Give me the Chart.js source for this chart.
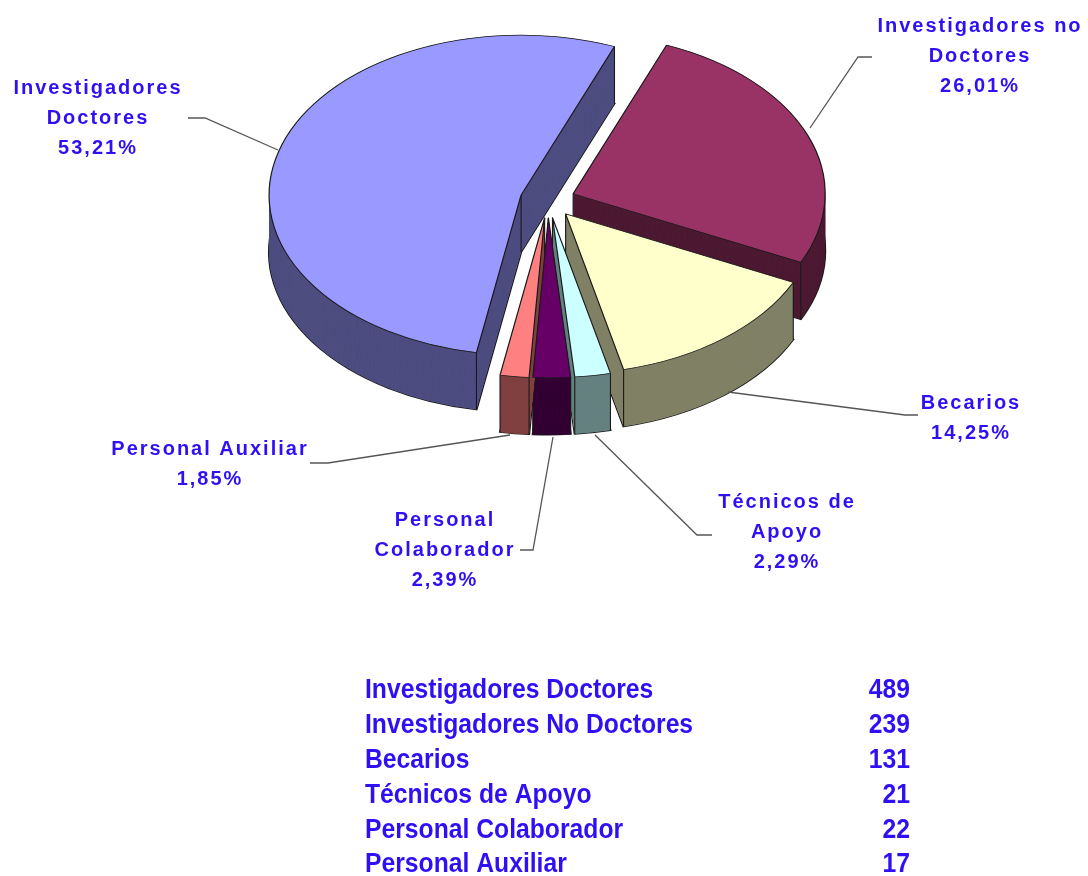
<!DOCTYPE html>
<html>
<head>
<meta charset="utf-8">
<style>html,body{margin:0;padding:0;background:#fff}#w{position:absolute;left:0;top:0;width:1088px;height:876px}</style>
<script src="https://cdn.jsdelivr.net/npm/chart.js@4"></script>
</head>
<body>
<div id="w"><canvas id="c" width="1088" height="876"></canvas></div>
<script>
const categories = ['Investigadores Doctores','Investigadores No Doctores','Becarios','Técnicos de Apoyo','Personal Colaborador','Personal Auxiliar'];
const counts = [489,239,131,21,22,17];
const percentLabels = ['53,21%','26,01%','14,25%','2,29%','2,39%','1,85%'];
const sliceLabels = [['Investigadores','Doctores'],['Investigadores no','Doctores'],['Becarios'],['Técnicos de','Apoyo'],['Personal','Colaborador'],['Personal Auxiliar']];
const topColors = ['#9999ff','#993366','#ffffcc','#ccffff','#660066','#ff8080'];
const wallColors = ['#4d4d80','#4d1a33','#808066','#668080','#330033','#804040'];
const explode = [28,27,28,28,28,28];

const SQUASH = 0.635, DEPTH = 57, RADIUS = 252;
const TEXT = '#2f10f5', LINE = '#555';
const labelPos = [
  {x:98,y:88,line:[[278,150],[205,118],[188,118]]},
  {x:980,y:26,line:[[810,128],[858,57],[872,57]]},
  {x:971,y:403,line:[[728,392],[905,415],[918,415]]},
  {x:787,y:502,line:[[595,435],[697,535],[712,535]]},
  {x:445,y:520,line:[[553,437],[533,550],[520,550]]},
  {x:210,y:449,line:[[510,435],[328,463],[310,463]]}
];

function trace(ctx,el,yo){
  ctx.beginPath(); ctx.moveTo(el.x,el.y+yo);
  ctx.arc(el.x,el.y+yo,el.outerRadius,el.startAngle,el.endAngle);
  ctx.closePath();
}
const pie3d = {
  id:'pie3d',
  afterDatasetsUpdate(chart){
    const arcs=chart.getDatasetMeta(0).data;
    chart.$pivot={x:arcs[0].x,y:arcs[0].y};
    arcs.forEach((el,i)=>{
      const h=(el.startAngle+el.endAngle)/2;
      el.x+=Math.cos(h)*explode[i];
      el.y+=Math.sin(h)*explode[i];
    });
  },
  beforeDatasetsDraw(chart){
    const ctx=chart.ctx, arcs=chart.getDatasetMeta(0).data, cx=chart.$pivot.x, cy=chart.$pivot.y;
    ctx.save();
    ctx.translate(cx,cy); ctx.scale(1,SQUASH); ctx.translate(-cx,-cy);
    const dz=DEPTH/SQUASH;
    arcs.forEach((el,i)=>{
      ctx.lineWidth=2.2; ctx.strokeStyle='#1a1a1a';
      trace(ctx,el,dz); ctx.stroke();
      ctx.fillStyle=wallColors[i];
      for(let k=dz;k>=0;k-=0.8){ trace(ctx,el,k); ctx.fill(); }
      ctx.lineWidth=1.1;
      ctx.beginPath();
      ctx.moveTo(el.x,el.y); ctx.lineTo(el.x,el.y+dz);
      [el.startAngle,el.endAngle].forEach(a=>{
        const px=el.x+Math.cos(a)*el.outerRadius, py=el.y+Math.sin(a)*el.outerRadius;
        ctx.moveTo(px,py); ctx.lineTo(px,py+dz);
      });
      ctx.stroke();
    });
  },
  afterDatasetsDraw(chart){
    const ctx=chart.ctx;
    ctx.restore();
    ctx.save();
    ctx.strokeStyle=LINE; ctx.lineWidth=1.3;
    labelPos.forEach(p=>{
      ctx.beginPath();
      p.line.forEach((q,i)=> i?ctx.lineTo(q[0],q[1]):ctx.moveTo(q[0],q[1]));
      ctx.stroke();
    });
    ctx.fillStyle=TEXT; ctx.textAlign='center'; ctx.textBaseline='middle';
    ctx.font='bold 20px "Liberation Sans"';
    labelPos.forEach((p,i)=>{
      sliceLabels[i].concat(percentLabels[i]).forEach((t,j)=>{
        ctx.letterSpacing = j===sliceLabels[i].length ? '2px' : '2px';
        ctx.fillText(t,p.x,p.y+j*30);
      });
    });
    ctx.letterSpacing='0px';
    ctx.font='bold 27px "Liberation Sans"';
    const sx=0.915;
    categories.forEach((t,i)=>{
      const y=691+i*34.8;
      ctx.save(); ctx.translate(365,y); ctx.scale(sx,1);
      ctx.textAlign='left'; ctx.fillText(t,0,0); ctx.restore();
      ctx.save(); ctx.translate(910,y); ctx.scale(sx,1);
      ctx.textAlign='right'; ctx.fillText(String(counts[i]),0,0); ctx.restore();
    });
    ctx.restore();
  }
};
new Chart(document.getElementById('c'),{
  type:'pie',
  data:{labels:categories,datasets:[{
    data:counts,backgroundColor:topColors,borderColor:'#1a1a1a',borderWidth:1.2,
    radius:RADIUS,clip:false,rotation:190.2
  }]},
  options:{
    responsive:false,animation:false,events:[],
    layout:{padding:{left:8,right:0,top:0,bottom:476}},
    plugins:{legend:{display:false},tooltip:{enabled:false}}
  },
  plugins:[pie3d]
});
</script>
</body>
</html>
